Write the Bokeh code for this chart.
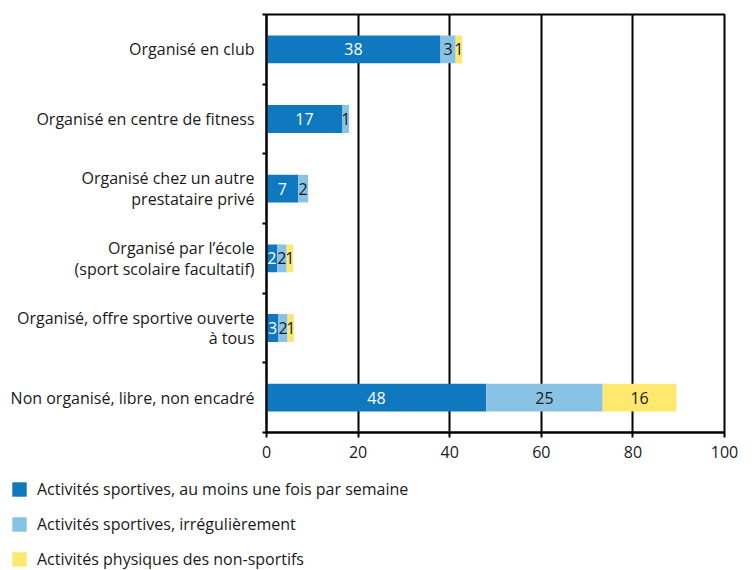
from bokeh.plotting import figure
from bokeh.layouts import column, row
from bokeh.models import (ColumnDataSource, FixedTicker, Legend, LegendItem)
from bokeh.core.properties import value
from bokeh.embed import file_html
from bokeh.resources import INLINE

# ---- data ----
categories = [
    "Non organisé, libre, non encadré",
    "Organisé, offre sportive ouverte\nà tous",
    "Organisé par l\u2019école\n(sport scolaire facultatif)",
    "Organisé chez un autre\nprestataire privé",
    "Organisé en centre de fitness",
    "Organisé en club",
]
weekly = [48.0, 2.6, 2.3, 6.9, 16.6, 38.0]
irregular = [25.4, 2.0, 2.1, 2.2, 1.4, 3.3]
non_sport = [16.1, 1.4, 1.4, 0.0, 0.0, 1.4]
series_names = [
    "Activités sportives, au moins une fois par semaine",
    "Activités sportives, irrégulièrement",
    "Activités physiques des non-sportifs",
]
x_ticks = [0, 20, 40, 60, 80, 100]

FONT = "Open Sans"
colors = ["#0f78be", "#88c3e6", "#ffe86e"]
text_colors = ["#ffffff", "#1a1a1a", "#1a1a1a"]

ypos = [i + 0.5 for i in range(len(categories))]
source = ColumnDataSource(dict(y=ypos, weekly=weekly, irregular=irregular, non_sport=non_sport))

p = figure(frame_width=458, frame_height=418, x_range=(0, 100), y_range=(0, 6),
           output_backend="svg", toolbar_location=None,
           min_border_left=266, min_border_right=26, min_border_top=14,
           min_border_bottom=36)
p.background_fill_color = "white"
p.border_fill_color = "white"
p.outline_line_color = "black"
p.outline_line_width = 2

renderers = p.hbar_stack(["weekly", "irregular", "non_sport"], y="y", height=0.4,
                         color=colors, line_color=None, source=source)

# segment labels
series = [weekly, irregular, non_sport]
for si, vals in enumerate(series):
    xs, ys, ts = [], [], []
    for ci, v in enumerate(vals):
        if v <= 0:
            continue
        start = sum(series[k][ci] for k in range(si))
        xs.append(start + v / 2)
        ys.append(ypos[ci])
        ts.append(f"{v:.0f}")
    p.text(x=xs, y=ys, text=ts, text_align="center", text_baseline="middle",
           text_color=text_colors[si], text_font_size="16px", text_font=value(FONT))

# x axis
p.xaxis.ticker = FixedTicker(ticks=x_ticks, minor_ticks=[])
p.xaxis.axis_line_width = 2
p.xaxis.axis_line_color = "black"
p.xaxis.major_tick_line_width = 2
p.xaxis.major_tick_line_color = "black"
p.xaxis.major_tick_out = 5
p.xaxis.major_tick_in = 0
p.xaxis.minor_tick_line_color = None
p.xaxis.major_label_text_font = FONT
p.xaxis.major_label_text_font_size = "16px"
p.xaxis.major_label_text_color = "#1a1a1a"
p.xaxis.major_label_standoff = 8

# y axis: labels at centers, minor ticks at boundaries
p.yaxis.ticker = FixedTicker(ticks=ypos, minor_ticks=list(range(len(categories) + 1)))
p.yaxis.major_label_overrides = {y: c for y, c in zip(ypos, categories)}
p.yaxis.axis_line_width = 2
p.yaxis.axis_line_color = "black"
p.yaxis.major_tick_out = 0
p.yaxis.major_tick_in = 0
p.yaxis.minor_tick_out = 4
p.yaxis.minor_tick_in = 0
p.yaxis.minor_tick_line_width = 2
p.yaxis.minor_tick_line_color = "black"
p.yaxis.major_label_text_font = FONT
p.yaxis.major_label_text_font_size = "16px"
p.yaxis.major_label_text_color = "#1a1a1a"
p.yaxis.major_label_text_line_height = 0.95
p.yaxis.major_label_standoff = 8

p.xgrid.ticker = FixedTicker(ticks=x_ticks)
p.xgrid.grid_line_color = "black"
p.xgrid.grid_line_width = 2
p.ygrid.grid_line_color = None

# legend in its own strip below the chart
lg = figure(width=750, height=102, x_range=(0, 1), y_range=(0, 1),
            output_backend="svg", toolbar_location=None,
            x_axis_location=None, y_axis_location=None,
            min_border_left=0, min_border_right=0, min_border_top=0, min_border_bottom=0)
lg.outline_line_color = None
lg.grid.grid_line_color = None
lg.background_fill_color = "white"
lg.border_fill_color = "white"
dummies = [lg.hbar(y=[-5], left=[0], right=[0.1], height=0.4, color=c, line_color=None)
           for c in colors]
legend = Legend(items=[LegendItem(label=n, renderers=[r]) for n, r in zip(series_names, dummies)],
                location=(10, 0), orientation="vertical",
                margin=0, padding=0, spacing=13,
                glyph_width=18, glyph_height=18, label_height=20,
                label_standoff=9, label_text_font=FONT, label_text_font_size="16px",
                label_text_color="#1a1a1a", border_line_color=None,
                background_fill_alpha=0)
lg.add_layout(legend, "center")

layout = column(p, row(lg), spacing=0)
open("out.html", "w").write(file_html(layout, INLINE))
